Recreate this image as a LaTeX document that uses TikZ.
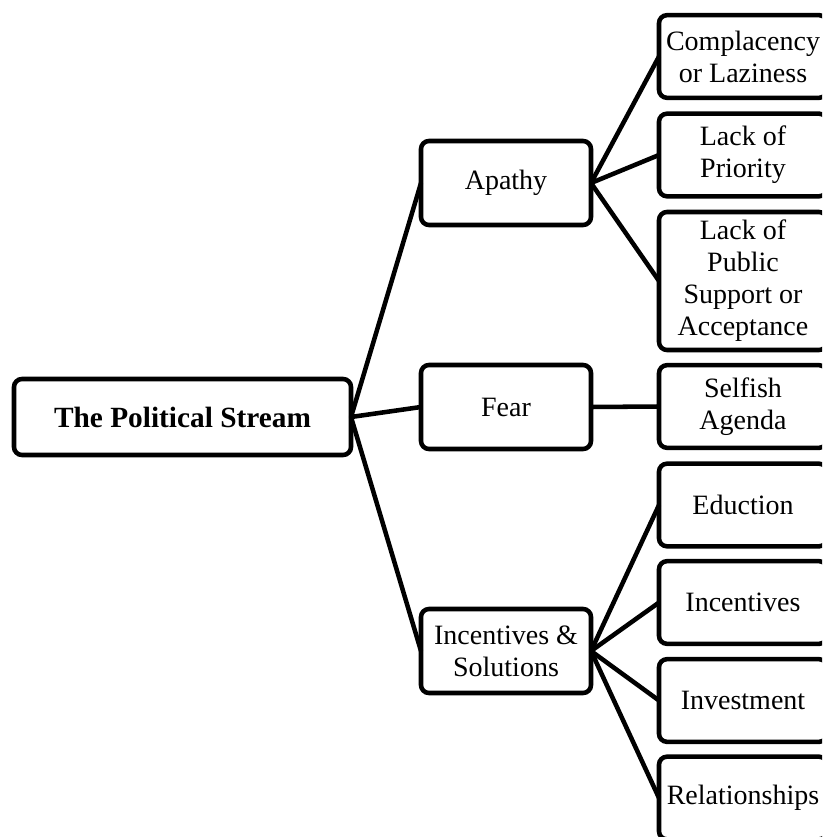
\documentclass[tikz,border=0pt]{standalone}
\usepackage{fontspec}
\setmainfont{Liberation Serif}
\begin{document}
\begin{tikzpicture}[x=0.75pt,y=-0.75pt,
  box/.style={draw=black, line width=3.4pt, rounded corners=6pt,
    inner sep=0pt, outer sep=0pt, align=center,
    font=\fontsize{21}{24}\selectfont},
  rootbox/.style={box, minimum width=252.75pt, minimum height=57pt,
    font=\fontsize{22}{25}\selectfont\bfseries},
  midbox/.style={box, minimum width=127.5pt, minimum height=63pt},
  leafbox/.style={box, minimum width=126pt, minimum height=62pt},
  tallbox/.style={box, minimum width=126pt, minimum height=103.5pt},
  link/.style={draw=black, line width=3.4pt},
]
\useasboundingbox (0,0) rectangle (822,837);
\clip (0,0) rectangle (822,837);

% root
\node[rootbox] (root) at (182.5,417) {The Political Stream};

% second level
\node[midbox] (apathy) at (506,183) {Apathy};
\node[midbox] (fear) at (506,407) {Fear};
\node[midbox] (incsol) at (506,651) {Incentives \&\\Solutions};

% leaves
\node[leafbox] (compl) at (743,56.5) {Complacency\\or Laziness};
\node[leafbox] (prio) at (743,155) {Lack of\\Priority};
\node[tallbox] (public) at (743,281) {Lack of\\Public\\Support or\\Acceptance};
\node[leafbox] (selfish) at (743,406.5) {Selfish\\Agenda};
\node[leafbox] (educ) at (743,505) {Eduction};
\node[leafbox] (incent) at (743,602.5) {Incentives};
\node[leafbox] (invest) at (743,700.5) {Investment};
\node[leafbox] (relat) at (743,798) {Relationships};

% connectors
\draw[link] (root.east) -- (apathy.west);
\draw[link] (root.east) -- (fear.west);
\draw[link] (root.east) -- (incsol.west);

\draw[link] (apathy.east) -- (compl.west);
\draw[link] (apathy.east) -- (prio.west);
\draw[link] (apathy.east) -- (public.west);

\draw[link] (fear.east) -- (selfish.west);

\draw[link] (incsol.east) -- (educ.west);
\draw[link] (incsol.east) -- (incent.west);
\draw[link] (incsol.east) -- (invest.west);
\draw[link] (incsol.east) -- (relat.west);
\end{tikzpicture}
\end{document}
